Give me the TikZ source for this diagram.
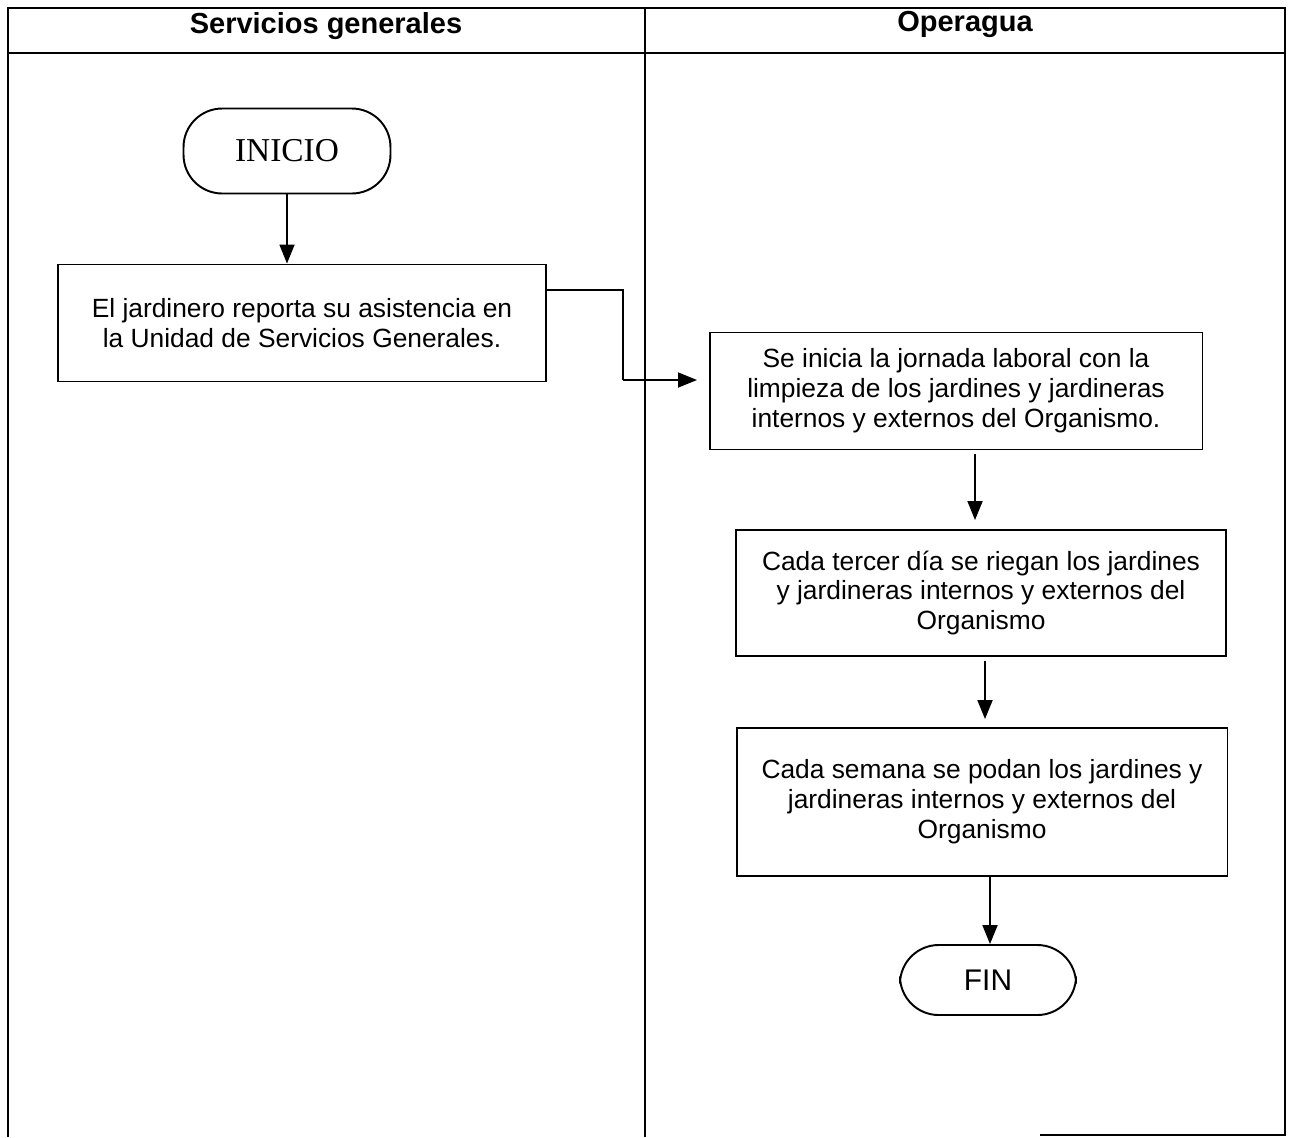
\documentclass[tikz,border=0pt]{standalone}
\usepackage{fontspec}
\setmainfont{Liberation Serif}
\setsansfont{Liberation Sans}
\usetikzlibrary{arrows.meta, positioning, calc}
\tikzset{
  lane/.style={line width=0.9pt},
  stepbox/.style={draw, line width=1.1pt, align=center, font=\sffamily\fontsize{15}{17}\selectfont, inner sep=0pt},
  terminal/.style={draw, line width=1.1pt, rounded corners=22pt, align=center},
  flow/.style={line width=1pt, -{Triangle[length=3.8mm, width=3mm]}},
  lanehead/.style={font=\sffamily\bfseries\fontsize{16.5}{19}\selectfont}
}

\begin{document}
\begin{tikzpicture}[x=0.02cm, y=-0.02cm]
    \useasboundingbox (0,0) rectangle (1290,1137);
    % swimlane frame
    \draw[lane] (8,1137) -- (8,8) -- (1285,8) -- (1285,1135) -- (1040,1135);
    \draw[lane] (8,53) -- (1285,53);
    \draw[lane] (645,8) -- (645,1137);
    \node[lanehead] (hserv) at (326,26) {Servicios generales};
    \node[lanehead] (hoper) at (965,24) {Operagua};

    % lane 1
    \node[terminal, minimum width=4.14cm, minimum height=1.7cm, font=\fontsize{19}{22}\selectfont] (inicio) at (287,151) {INICIO};
    \node[stepbox, minimum width=9.76cm, minimum height=2.34cm] (reporta) at (302,323)
      {El jardinero reporta su asistencia en\\la Unidad de Servicios Generales.};

    % lane 2
    \node[stepbox, minimum width=9.86cm, minimum height=2.34cm] (limpia) at (956,391)
      {Se inicia la jornada laboral con la\\limpieza de los jardines y jardineras\\internos y externos del Organismo.};
    \node[stepbox, minimum width=9.8cm, minimum height=2.52cm] (riega) at (981,593)
      {Cada tercer día se riegan los jardines\\y jardineras internos y externos del\\Organismo};
    \node[stepbox, minimum width=9.82cm, minimum height=2.96cm] (poda) at (982,802)
      {Cada semana se podan los jardines y\\jardineras internos y externos del\\Organismo};
    \node[terminal, minimum width=3.52cm, minimum height=1.4cm, font=\sffamily\fontsize{17}{20}\selectfont] (fin) at (988,980) {FIN};

    % connectors
    \coordinate (r1) at (546,290);
    \coordinate (r2) at (697,380);
    \draw[flow] (inicio) -- (inicio |- reporta.north);
    \draw[line width=1pt] (reporta.east |- r1) -- (623,290) -- (623,380);
    \draw[flow] (623,380) -- (r2);
    \draw[flow] ($(limpia.south)+(19,4)$) -- ($(riega.north)+(-6,-9)$);
    \draw[flow] ($(riega.south)+(4,4)$) -- ($(poda.north)+(3,-8)$);
    \draw[flow] ($(poda.south)+(8,0)$) -- (fin.north -| 990,0);
\end{tikzpicture}
\end{document}
